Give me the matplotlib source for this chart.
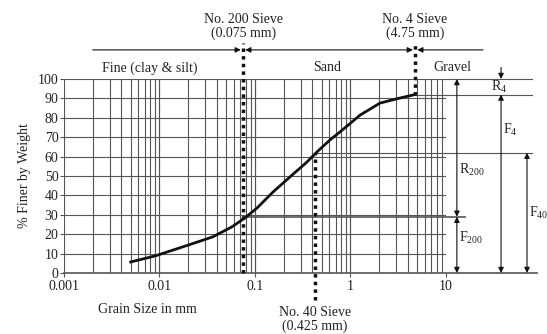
import matplotlib
matplotlib.use("Agg")
import matplotlib.pyplot as plt
import numpy as np

plt.rcParams['font.family'] = ['Liberation Serif', 'DejaVu Serif']
plt.rcParams['mathtext.fontset'] = 'custom'
plt.rcParams['mathtext.rm'] = 'Liberation Serif'

# grain size distribution
grain_size = [0.005, 0.009, 0.02, 0.036, 0.057, 0.078, 0.105, 0.154, 0.232, 0.35,
              0.445, 0.61, 0.776, 1.26, 2.04, 3.3, 4.75]
pct_finer = [5.7, 8.8, 14.4, 18.6, 23.7, 28.3, 33.5, 41.7, 49.5, 57.2,
             62.4, 68.6, 72.7, 81.4, 87.6, 90.2, 92.0]

x_ticks = [0.001, 0.01, 0.1, 1, 10]
x_labels = ["0.001", "0.01", "0.1", "1", "10"]
y_ticks = [0, 10, 20, 30, 40, 50, 60, 70, 80, 90, 100]

sieve_200 = 0.075
sieve_40 = 0.425
sieve_4 = 4.75
F200 = 29
F40 = 62
F4 = 92

txt = "#222222"
grid_c = "#555555"

fig = plt.figure(figsize=(5.47, 3.34), dpi=100)
ax = fig.add_axes([64/547, 61/334, 382/547, 194/334])
ax.set_xscale('log')
ax.set_xlim(0.001, 10)
ax.set_ylim(0, 100)
for s in ax.spines.values():
    s.set_visible(False)

# grid
for dec in [0.001, 0.01, 0.1, 1]:
    for m in range(1, 11):
        ax.plot([dec*m, dec*m], [0, 100], color=grid_c, lw=0.8, zorder=1)
for y in y_ticks[1:]:
    ax.plot([0.001, 10], [y, y], color=grid_c, lw=0.8, zorder=1)

# extended lines on the right
ax.plot([10, 79.6], [100, 100], color=grid_c, lw=0.8, clip_on=False)
ax.plot([sieve_4, 79.6], [F4, F4], color=grid_c, lw=0.8, clip_on=False)
ax.plot([sieve_40, 79.6], [F40, F40], color=grid_c, lw=0.8, clip_on=False)
ax.plot([sieve_200, 15.8], [F200, F200], color=grid_c, lw=1.2, clip_on=False)
ax.plot([0.001, 89], [0, 0], color=grid_c, lw=1.2, clip_on=False)

# curve
ax.plot(grain_size, pct_finer, color="#111111", lw=2, zorder=4, solid_joinstyle='round')

# sieve dotted lines
dot = dict(color="#111111", lw=2.5, ls=(0, (1, 1.2)), clip_on=False, zorder=5)
ax.plot([sieve_200, sieve_200], [0, 118.6], **dot)
ax.plot([sieve_4, sieve_4], [F4, 118.6], **dot)
ax.plot([sieve_40, sieve_40], [-14, F40], **dot)

arr = dict(arrowstyle="-|>", color="#111111", lw=0.8, mutation_scale=8, shrinkA=0, shrinkB=0)
both = dict(arrowstyle="<|-|>", color="#111111", lw=0.8, mutation_scale=8, shrinkA=0, shrinkB=0)

# top range arrows
y_top = 115
ax.annotate("", xy=(0.071, y_top), xytext=(0.002, y_top), arrowprops=arr, annotation_clip=False)
ax.annotate("", xy=(0.079, y_top), xytext=(4.5, y_top), arrowprops=both, annotation_clip=False)
ax.annotate("", xy=(5.0, y_top), xytext=(24.4, y_top), arrowprops=arr, annotation_clip=False)

# right side dimension arrows
ax.annotate("", xy=(37.7, 100), xytext=(37.7, 106), arrowprops=arr, annotation_clip=False)
ax.annotate("", xy=(37.7, F4), xytext=(37.7, 0), arrowprops=both, annotation_clip=False)
ax.annotate("", xy=(13.0, 100), xytext=(13.0, F200), arrowprops=both, annotation_clip=False)
ax.annotate("", xy=(13.0, F200), xytext=(13.0, 0), arrowprops=both, annotation_clip=False)
ax.annotate("", xy=(70.5, F40), xytext=(70.5, 0), arrowprops=both, annotation_clip=False)

fs = 10
ax.text(36, 96, "R$_4$", ha='center', va='center', fontsize=fs, color=txt)
ax.text(39.5, 74, "F$_4$", ha='left', va='center', fontsize=fs, color=txt)
ax.text(13.8, 53, "R$_{200}$", ha='left', va='center', fontsize=fs, color=txt)
ax.text(13.8, 18, "F$_{200}$", ha='left', va='center', fontsize=fs, color=txt)
ax.text(74, 31, "F$_{40}$", ha='left', va='center', fontsize=fs, color=txt)

ax.text(0.0079, 105.7, "Fine (clay & silt)", ha='center', va='center', fontsize=fs, color=txt)
ax.text(0.57, 105.7, "Sand", ha='center', va='center', fontsize=fs, color=txt)
ax.text(11.6, 105.7, "Gravel", ha='center', va='center', fontsize=fs, color=txt)

ax.text(sieve_200, 127, "No. 200 Sieve\n(0.075 mm)", ha='center', va='center', fontsize=fs, color=txt, linespacing=1.0)
ax.text(sieve_4, 127, "No. 4 Sieve\n(4.75 mm)", ha='center', va='center', fontsize=fs, color=txt, linespacing=1.0)
ax.text(sieve_40, -24, "No. 40 Sieve\n(0.425 mm)", ha='center', va='center', fontsize=fs, color=txt, linespacing=1.0)

ax.set_xticks(x_ticks)
ax.set_xticklabels(x_labels)
ax.set_xticks([], minor=True)
ax.set_yticks(y_ticks)
ax.tick_params(axis='both', direction='out', length=3, width=0.8, color=grid_c, labelsize=fs, labelcolor=txt)
ax.tick_params(axis='y', pad=1)
ax.tick_params(axis='x', pad=2)
ax.set_xlabel("Grain Size in mm", fontsize=fs, color=txt)
ax.xaxis.set_label_coords(0.218, -0.155)
ax.set_ylabel("% Finer by Weight", fontsize=fs, color=txt, labelpad=5)

fig.savefig("out.png", dpi=100)
